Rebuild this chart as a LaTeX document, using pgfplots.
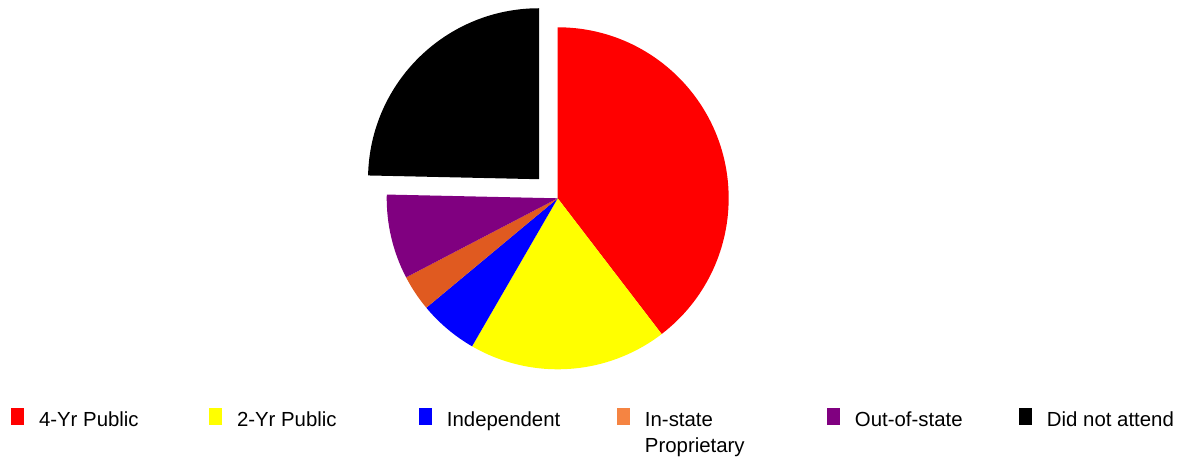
\documentclass[border=0pt]{standalone}
\usepackage{pgfplots}
\pgfplotsset{compat=1.18}
\usepackage{fontspec}
\setmainfont{Liberation Sans}
\definecolor{cRed}{HTML}{FF0000}
\definecolor{cYellow}{HTML}{FFFF00}
\definecolor{cBlue}{HTML}{0000FF}
\definecolor{cOrange}{HTML}{E05A20}
\definecolor{cOrangeL}{HTML}{F58442}
\definecolor{cPurple}{HTML}{800080}
\definecolor{cBlack}{HTML}{000000}
\begin{document}
\begin{tikzpicture}
% shares (percent)
\def\vA{39.6}\def\vB{18.75}\def\vC{5.6}\def\vD{3.4}\def\vE{8.0}\def\vF{24.65}
\def\cx{557.7}\def\cy{261.7}\def\R{171}
\pgfmathsetmacro\aA{90}
\pgfmathsetmacro\aB{\aA-3.6*\vA}
\pgfmathsetmacro\aC{\aB-3.6*\vB}
\pgfmathsetmacro\aD{\aC-3.6*\vC}
\pgfmathsetmacro\aE{\aD-3.6*\vD}
\pgfmathsetmacro\aF{\aE-3.6*\vE}
\pgfmathsetmacro\aG{\aF-3.6*\vF}
\pgfmathsetmacro\pAx{\cx+\R*cos(\aA)}\pgfmathsetmacro\pAy{\cy+\R*sin(\aA)}
\pgfmathsetmacro\pBx{\cx+\R*cos(\aB)}\pgfmathsetmacro\pBy{\cy+\R*sin(\aB)}
\pgfmathsetmacro\pCx{\cx+\R*cos(\aC)}\pgfmathsetmacro\pCy{\cy+\R*sin(\aC)}
\pgfmathsetmacro\pDx{\cx+\R*cos(\aD)}\pgfmathsetmacro\pDy{\cy+\R*sin(\aD)}
\pgfmathsetmacro\pEx{\cx+\R*cos(\aE)}\pgfmathsetmacro\pEy{\cy+\R*sin(\aE)}
% exploded slice
\pgfmathsetmacro\mF{(\aF+\aG)/2}
\pgfmathsetmacro\oFx{\cx+26.7*cos(\mF)}\pgfmathsetmacro\oFy{\cy+26.7*sin(\mF)}
\pgfmathsetmacro\pFx{\oFx+\R*cos(\aF)}\pgfmathsetmacro\pFy{\oFy+\R*sin(\aF)}
\begin{axis}[
  x=0.02cm, y=0.02cm, scale only axis,
  xmin=0, xmax=1179, ymin=0, ymax=460,
  hide axis, clip=false,
  legend columns=6,
  legend image code/.code={\fill[#1] (0cm,0.034cm) rectangle (0.26cm,0.368cm); \path (0.49cm,0cm);},
  legend style={draw=none, fill=none, inner sep=0pt, outer sep=0pt,
    at={(axis cs:11,51.7)}, anchor=north west,
    column sep=0pt, cells={anchor=base west},
    nodes={inner sep=2pt},
    font=\fontsize{11.6pt}{14.8pt}\selectfont},
]
\addplot[fill=cRed, draw=none] coordinates {(\cx,\cy) (\pAx,\pAy)} arc[start angle=\aA, end angle=\aB, radius=3.42cm] -- cycle;
\addlegendentry{\makebox[3.33cm][l]{4-Yr Public}}
\addplot[fill=cYellow, draw=none] coordinates {(\cx,\cy) (\pBx,\pBy)} arc[start angle=\aB, end angle=\aC, radius=3.42cm] -- cycle;
\addlegendentry{\makebox[3.57cm][l]{2-Yr Public}}
\addplot[fill=cBlue, draw=none] coordinates {(\cx,\cy) (\pCx,\pCy)} arc[start angle=\aC, end angle=\aD, radius=3.42cm] -- cycle;
\addlegendentry{\makebox[3.33cm][l]{Independent}}
\addplot[fill=cOrange, draw=none, forget plot] coordinates {(\cx,\cy) (\pDx,\pDy)} arc[start angle=\aD, end angle=\aE, radius=3.42cm] -- cycle;
\addlegendimage{fill=cOrangeL, draw=none}
\addlegendentry{\parbox[t]{3.57cm}{In-state\\Proprietary}}
\addplot[fill=cPurple, draw=none] coordinates {(\cx,\cy) (\pEx,\pEy)} arc[start angle=\aE, end angle=\aF, radius=3.42cm] -- cycle;
\addlegendentry{\makebox[3.21cm][l]{Out-of-state}}
\addplot[fill=cBlack, draw=none] coordinates {(\oFx,\oFy) (\pFx,\pFy)} arc[start angle=\aF, end angle=\aG, radius=3.42cm] -- cycle;
\addlegendentry{Did not attend}
\end{axis}
\pgfresetboundingbox
\path (current axis.south west) rectangle (current axis.north east);
\end{tikzpicture}
\end{document}
